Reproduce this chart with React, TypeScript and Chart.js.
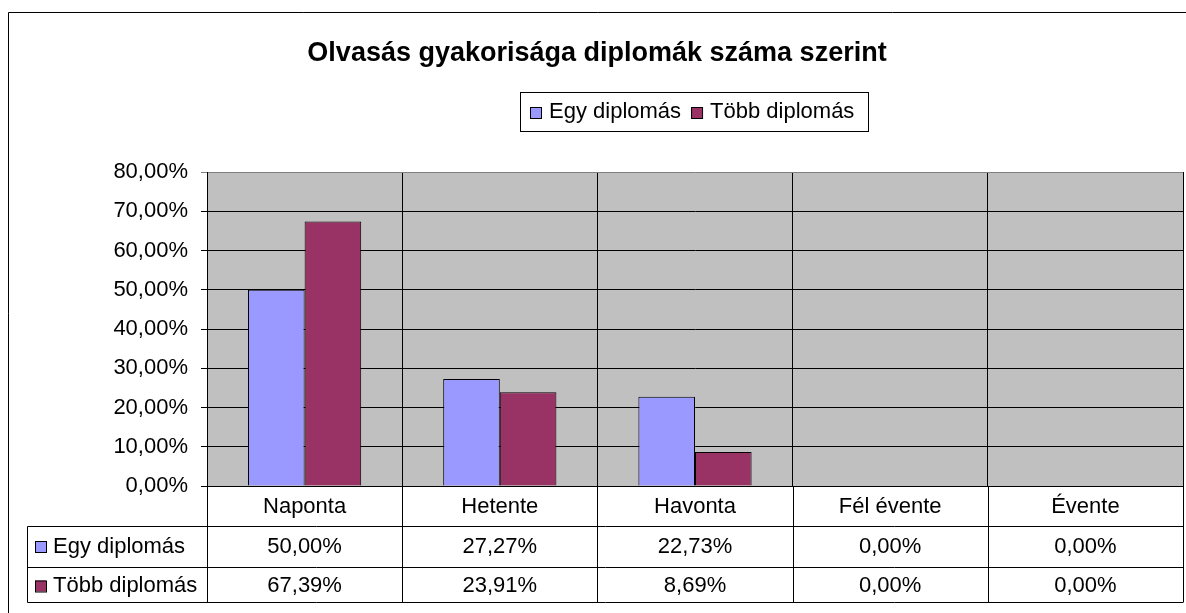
import React, { useEffect, useRef } from "react";
import { Chart, registerables } from "chart.js";

Chart.register(...registerables);

const title = "Olvasás gyakorisága diplomák száma szerint";
const categories = ["Naponta", "Hetente", "Havonta", "Fél évente", "Évente"];
const seriesNames = ["Egy diplomás", "Több diplomás"];
const egyValues = [50.0, 27.27, 22.73, 0.0, 0.0];
const tobbValues = [67.39, 23.91, 8.69, 0.0, 0.0];
const seriesColors = ["#9999FF", "#993366"];
const yMin = 0;
const yMax = 80;
const yStep = 10;

const FONT = "'Liberation Sans', Arial, sans-serif";
const fmt = (v: number) => v.toFixed(2).replace(".", ",") + "%";

const decorPlugin = {
  id: "decor",
  beforeDraw(chart: any) {
    const { ctx, chartArea: a, width, height } = chart;
    ctx.save();
    ctx.fillStyle = "#ffffff";
    ctx.fillRect(0, 0, width, height);
    ctx.fillStyle = "#C0C0C0";
    ctx.fillRect(a.left, a.top, a.right - a.left, a.bottom - a.top);
    ctx.restore();
  },
  afterDraw(chart: any) {
    const { ctx, chartArea: a, width, height } = chart;
    const xs = chart.scales.x;
    const n = categories.length;
    const catW = (a.right - a.left) / n;
    ctx.save();

    // outer frame
    ctx.strokeStyle = "#000";
    ctx.lineWidth = 1;
    ctx.beginPath();
    ctx.moveTo(8.5, height + 5);
    ctx.lineTo(8.5, 12.5);
    ctx.lineTo(width + 5, 12.5);
    ctx.stroke();

    // title
    ctx.fillStyle = "#000";
    ctx.font = `bold 27px ${FONT}`;
    ctx.textAlign = "center";
    ctx.textBaseline = "alphabetic";
    ctx.fillText(title, 597, 61);

    // legend box
    ctx.font = `22px ${FONT}`;
    ctx.textAlign = "left";
    const lx = 520.5, ly = 92.5, lw = 348, lh = 39;
    ctx.strokeStyle = "#000";
    ctx.strokeRect(lx, ly, lw, lh);
    let cx = 530;
    seriesNames.forEach((name, i) => {
      ctx.fillStyle = seriesColors[i];
      ctx.fillRect(cx, 107, 11, 11);
      ctx.strokeStyle = "#000";
      ctx.strokeRect(cx + 0.5, 107.5, 11, 11);
      ctx.fillStyle = "#000";
      ctx.fillText(name, cx + 19, 118);
      cx += 19 + ctx.measureText(name).width + 10;
    });

    // data table
    const r0 = a.bottom;
    const r1 = r0 + 40;
    const r2 = r0 + 80.5;
    const r3 = r0 + 116;
    const tableLeft = 27.5;
    ctx.strokeStyle = "#000";
    ctx.lineWidth = 1;
    ctx.beginPath();
    for (let i = 0; i <= n; i++) {
      const x = Math.round(a.left + i * catW) + 0.5;
      ctx.moveTo(x, r0);
      ctx.lineTo(x, r3);
    }
    [r1, r2, r3].forEach((y) => {
      const yy = Math.round(y) + 0.5;
      ctx.moveTo(tableLeft, yy);
      ctx.lineTo(a.right + 0.5, yy);
    });
    ctx.moveTo(tableLeft, Math.round(r1) + 0.5);
    ctx.lineTo(tableLeft, Math.round(r3) + 0.5);
    ctx.stroke();

    ctx.fillStyle = "#000";
    ctx.font = `22px ${FONT}`;
    ctx.textAlign = "center";
    categories.forEach((c, i) => {
      const x = xs.getPixelForValue(i);
      ctx.fillText(c, x, r0 + 27);
    });
    const rows = [egyValues, tobbValues];
    const rowBase = [r1 + 27, r2 + 25];
    rows.forEach((vals, ri) => {
      vals.forEach((v, i) => {
        const x = xs.getPixelForValue(i);
        ctx.fillText(fmt(v), x, rowBase[ri]);
      });
    });
    // row headers
    ctx.textAlign = "left";
    const keyY = [r1 + 15, r2 + 14];
    seriesNames.forEach((name, i) => {
      ctx.fillStyle = seriesColors[i];
      ctx.fillRect(35, keyY[i], 11, 11);
      ctx.strokeStyle = "#000";
      ctx.strokeRect(35.5, keyY[i] + 0.5, 11, 11);
      ctx.fillStyle = "#000";
      ctx.fillText(name, 53, rowBase[i]);
    });
    ctx.restore();
  },
};

export default function App() {
  const ref = useRef<HTMLCanvasElement | null>(null);
  useEffect(() => {
    if (!ref.current) return;
    const chart = new Chart(ref.current, {
      type: "bar",
      data: {
        labels: categories,
        datasets: [
          {
            label: seriesNames[0],
            data: egyValues,
            backgroundColor: seriesColors[0],
            borderColor: "#000",
            borderWidth: 1,
            categoryPercentage: 0.58,
            barPercentage: 1,
          },
          {
            label: seriesNames[1],
            data: tobbValues,
            backgroundColor: seriesColors[1],
            borderColor: "#000",
            borderWidth: 1,
            categoryPercentage: 0.58,
            barPercentage: 1,
          },
        ],
      },
      options: {
        responsive: false,
        animation: false,
        devicePixelRatio: 1,
        layout: { padding: { left: 0, top: 172, right: 3, bottom: 127 } },
        plugins: {
          legend: { display: false },
          title: { display: false },
          tooltip: { enabled: false },
        },
        scales: {
          x: {
            offset: true,
            grid: {
              display: true,
              offset: true,
              drawTicks: false,
              color: (c: any) => (c.index === categories.length ? "#808080" : "#000"),
              lineWidth: 1,
            },
            border: { display: true, color: "#000" },
            ticks: { display: false },
            afterFit: (s: any) => {
              s.height = 0;
            },
          },
          y: {
            min: yMin,
            max: yMax,
            ticks: {
              stepSize: yStep,
              padding: 13,
              color: "#000",
              font: { family: FONT, size: 22 },
              callback: (v: any) => fmt(Number(v)),
            },
            grid: {
              color: (c: any) => (c.tick && c.tick.value === yMax ? "#808080" : "#000"),
              lineWidth: 1,
              tickLength: 6,
            },
            border: { display: true, color: "#000" },
            afterFit: (s: any) => {
              s.width = 207;
            },
          },
        },
      },
      plugins: [decorPlugin],
    } as any);
    return () => chart.destroy();
  }, []);
  return (
    <div style={{ position: "absolute", left: 0, top: 0, width: 1186, height: 613 }}>
      <canvas ref={ref} width={1186} height={613} style={{ display: "block", width: 1186, height: 613 }} />
    </div>
  );
}
